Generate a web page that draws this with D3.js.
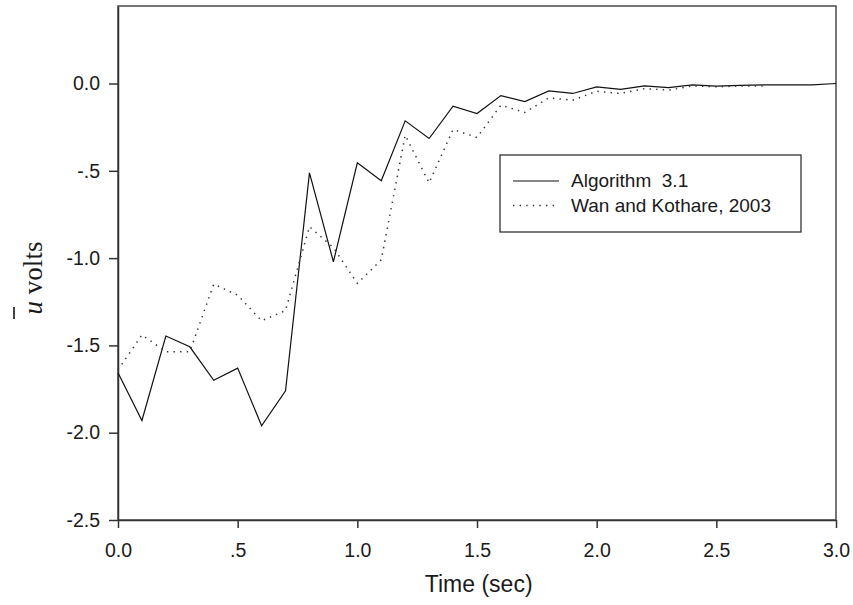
<!DOCTYPE html>
<html>
<head>
<meta charset="utf-8">
<script src="https://cdn.jsdelivr.net/npm/d3@7"></script>
<style>
  html, body { margin: 0; padding: 0; background: #fff; }
  svg { display: block; }
  text { font-family: "Liberation Sans", Arial, sans-serif; fill: #1a1a1a; }
</style>
</head>
<body>
<svg id="chart" width="853" height="605"></svg>
<script>
// Control signal response, sampled every 0.1 s
const time = [0.0, 0.1, 0.2, 0.3, 0.4, 0.5, 0.6, 0.7, 0.8, 0.9,
              1.0, 1.1, 1.2, 1.3, 1.4, 1.5, 1.6, 1.7, 1.8, 1.9,
              2.0, 2.1, 2.2, 2.3, 2.4, 2.5, 2.6, 2.7, 2.8, 2.9, 3.0];

const algorithm31 = [-1.657, -1.93, -1.446, -1.508, -1.70, -1.63, -1.96, -1.76, -0.512, -1.021,
                     -0.454, -0.557, -0.214, -0.315, -0.13, -0.172, -0.069, -0.103, -0.042, -0.057,
                     -0.019, -0.034, -0.014, -0.023, -0.008, -0.015, -0.011, -0.008, -0.008, -0.008, 0.0];

const wanKothare = [-1.64, -1.44, -1.536, -1.536, -1.149, -1.212, -1.359, -1.30, -0.82, -0.94,
                    -1.145, -1.01, -0.296, -0.569, -0.263, -0.309, -0.124, -0.166, -0.082, -0.096,
                    -0.044, -0.057, -0.029, -0.038, -0.014, -0.019, -0.014, -0.014];

const xTicks = [0, 0.5, 1.0, 1.5, 2.0, 2.5, 3.0];
const xTickLabels = ["0.0", ".5", "1.0", "1.5", "2.0", "2.5", "3.0"];
const yTicks = [0, -0.5, -1.0, -1.5, -2.0, -2.5];
const yTickLabels = ["0.0", "-.5", "-1.0", "-1.5", "-2.0", "-2.5"];

const seriesNames = ["Algorithm  3.1", "Wan and Kothare, 2003"];

const svg = d3.select("#chart");
const plot = { left: 118, right: 836, top: 6, bottom: 520 };

const x = d3.scaleLinear().domain([0, 3]).range([plot.left, plot.right]);
const y = d3.scaleLinear().domain([-2.5, 0.444]).range([plot.bottom, plot.top]);

// plot frame
svg.append("rect")
  .attr("x", plot.left).attr("y", plot.top)
  .attr("width", plot.right - plot.left).attr("height", plot.bottom - plot.top)
  .attr("fill", "none").attr("stroke", "#555").attr("stroke-width", 1.6);

// axes
const xAxis = d3.axisBottom(x)
  .tickValues(xTicks)
  .tickFormat((d, i) => xTickLabels[i])
  .tickSizeInner(8).tickSizeOuter(0).tickPadding(16);
const gx = svg.append("g").attr("transform", `translate(0,${plot.bottom})`).call(xAxis);

const yAxis = d3.axisLeft(y)
  .tickValues(yTicks)
  .tickFormat((d, i) => yTickLabels[i])
  .tickSizeInner(9).tickSizeOuter(0).tickPadding(9);
const gy = svg.append("g").attr("transform", `translate(${plot.left},0)`).call(yAxis);

[gx, gy].forEach(g => {
  g.select(".domain").attr("stroke", "#333").attr("stroke-width", 1.5);
  g.selectAll(".tick line").attr("stroke", "#333").attr("stroke-width", 1.5);
  g.selectAll(".tick text")
    .attr("font-family", "Liberation Sans, Arial, sans-serif")
    .attr("font-size", 19.5)
    .attr("fill", "#1a1a1a");
});
gx.selectAll(".tick text").attr("dy", "0.71em").attr("y", 23);

// series lines
const lineA = d3.line().x((d, i) => x(time[i])).y(d => y(d));

svg.append("path")
  .datum(algorithm31)
  .attr("d", lineA)
  .attr("fill", "none")
  .attr("stroke", "#111")
  .attr("stroke-width", 1.2)
  .attr("stroke-linejoin", "miter");

svg.append("path")
  .datum(wanKothare)
  .attr("d", lineA)
  .attr("fill", "none")
  .attr("stroke", "#333")
  .attr("stroke-width", 1.5)
  .attr("stroke-dasharray", "1.4,5.2");

// legend
const legend = svg.append("g");
legend.append("rect")
  .attr("x", 500).attr("y", 155).attr("width", 301).attr("height", 77)
  .attr("fill", "#fff").attr("stroke", "#333").attr("stroke-width", 1.3);
const legendStyles = [
  { dash: null, width: 1.2, color: "#111" },
  { dash: "1.4,5.2", width: 1.5, color: "#333" }
];
seriesNames.forEach((name, i) => {
  const ly = 181 + i * 24.5;
  legend.append("line")
    .attr("x1", 513).attr("x2", 559).attr("y1", ly).attr("y2", ly)
    .attr("stroke", legendStyles[i].color)
    .attr("stroke-width", legendStyles[i].width)
    .attr("stroke-dasharray", legendStyles[i].dash);
  legend.append("text")
    .attr("x", 571).attr("y", ly + 6)
    .attr("font-size", 19)
    .attr("xml:space", "preserve")
    .style("white-space", "pre")
    .text(name);
});

// axis titles
svg.append("text")
  .attr("x", 478.7).attr("y", 592)
  .attr("text-anchor", "middle")
  .attr("font-size", 23)
  .text("Time (sec)");

const yTitle = svg.append("g").attr("transform", "translate(42,278) rotate(-90)");
const yt = yTitle.append("text")
  .attr("x", 0).attr("y", 0)
  .attr("text-anchor", "middle")
  .style("font-family", "'Liberation Serif', 'Times New Roman', serif")
  .attr("font-size", 27);
yt.append("tspan").attr("font-style", "italic").text("u");
yt.append("tspan").text(" volts");
// overbar on the u
yTitle.append("line")
  .attr("x1", -41).attr("x2", -29)
  .attr("y1", -28).attr("y2", -28)
  .attr("stroke", "#444").attr("stroke-width", 2);
</script>
</body>
</html>
